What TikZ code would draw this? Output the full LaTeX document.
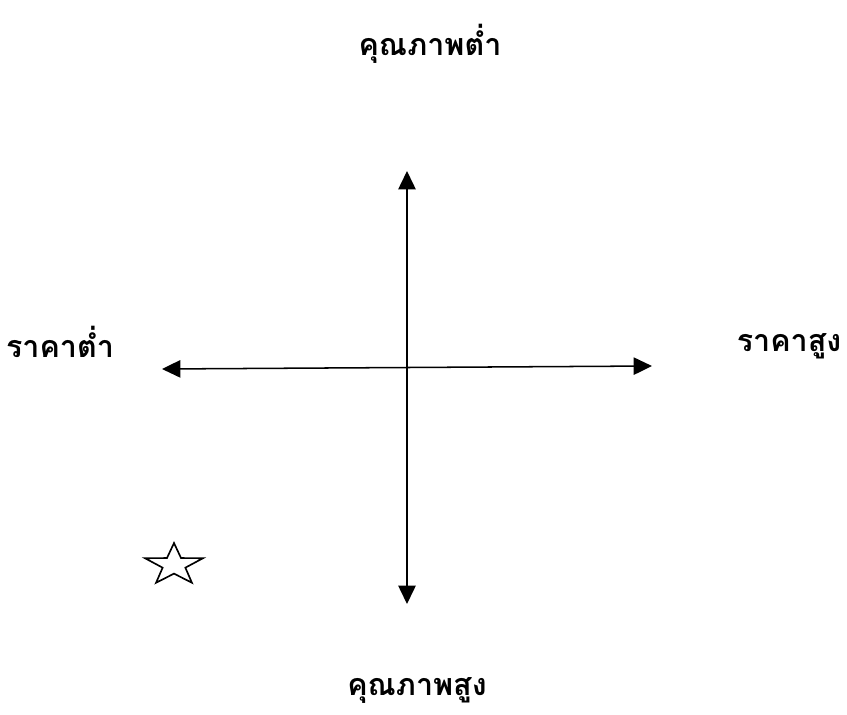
\documentclass[tikz,border=0pt]{standalone}
\usepackage{fontspec}
\newfontfamily\thaifont[Script=Thai]{Loma}
\usetikzlibrary{shapes.geometric, arrows.meta, positioning}

\begin{document}
\begin{tikzpicture}[
    x=0.3mm, y=-0.3mm,
    axislabel/.style={font=\thaifont\bfseries\fontsize{26}{31}\selectfont, inner sep=0pt},
    axis/.style={{Triangle[length=5.5mm, width=5.2mm]}-{Triangle[length=5.5mm, width=5.2mm]}, line width=1.3pt},
    brand/.style={star, star points=5, star point ratio=2.55, draw, line width=1.4pt, minimum size=1.83cm, inner sep=0pt, yscale=0.72, transform shape},
]
    \useasboundingbox (0,0) rectangle (847,714);

    % Axis ends
    \coordinate (top) at (407,171);
    \coordinate (bottom) at (407,604);
    \coordinate (left) at (162,369);
    \coordinate (right) at (652,366);

    % Axes
    \draw[axis] (bottom) -- (top);
    \draw[axis] (left) -- (right);

    % Labels
    \node[axislabel] (lowq) at (430,44) {คุณภาพต่ำ};
    \node[axislabel] (highq) at (417,690) {คุณภาพสูง};
    \node[axislabel] (lowp) at (60,342) {ราคาต่ำ};
    \node[axislabel] (highp) at (789,346) {ราคาสูง};

    % Position
    \node[brand] (pos) at (174,565) {};

\end{tikzpicture}
\end{document}
